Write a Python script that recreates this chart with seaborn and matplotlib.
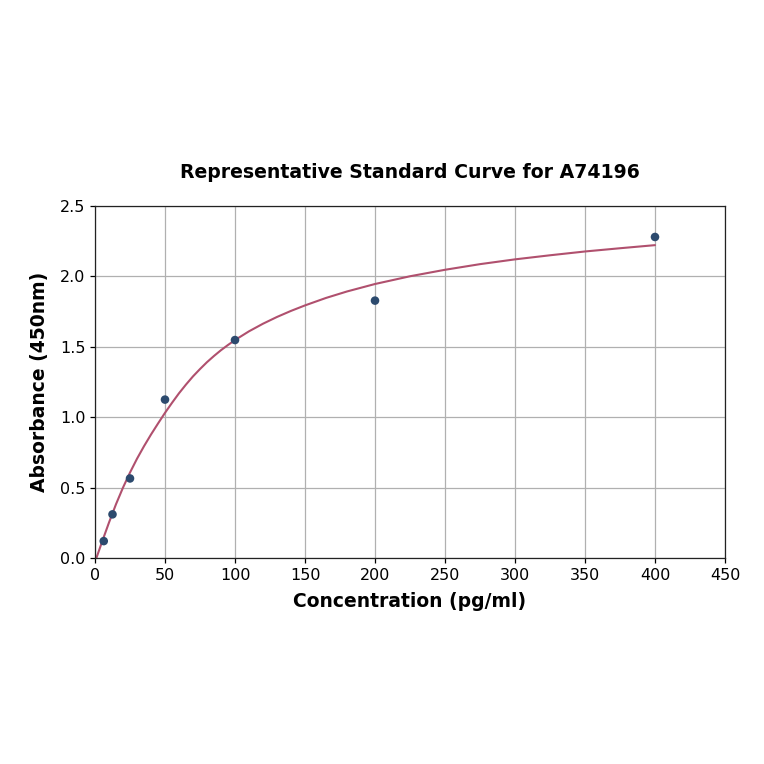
import matplotlib
matplotlib.use("Agg")
import matplotlib.pyplot as plt
import seaborn as sns
import pandas as pd

# Standard points
conc = [6.25, 12.5, 25, 50, 100, 200, 400]
absorb = [0.12, 0.31, 0.565, 1.125, 1.548, 1.828, 2.28]

# Fitted curve
curve_x = [1, 5, 10, 15, 20, 25, 30, 35, 40, 45, 50, 55, 60, 65, 70, 75, 80, 85, 90,
           95, 100, 110, 120, 130, 140, 150, 165, 180, 200, 225, 250, 275, 300, 325,
           350, 375, 400]
curve_y = [0.0, 0.114, 0.252, 0.382, 0.50, 0.607, 0.705, 0.794, 0.877, 0.955, 1.031,
           1.102, 1.170, 1.232, 1.290, 1.342, 1.391, 1.435, 1.476, 1.513, 1.548, 1.610,
           1.664, 1.712, 1.755, 1.794, 1.847, 1.893, 1.946, 2.001, 2.047, 2.087, 2.121,
           2.150, 2.177, 2.200, 2.222]

x_ticks = [0, 50, 100, 150, 200, 250, 300, 350, 400, 450]
y_ticks = [0.0, 0.5, 1.0, 1.5, 2.0, 2.5]

title = "Representative Standard Curve for A74196"
xlabel = "Concentration (pg/ml)"
ylabel = "Absorbance (450nm)"

sns.set_theme(style="ticks", rc={"text.color": "black", "axes.labelcolor": "black",
                                 "xtick.color": "black", "ytick.color": "black"})
plt.rcParams['font.family'] = ['DejaVu Sans']

pts = pd.DataFrame({"x": conc, "y": absorb})
crv = pd.DataFrame({"x": curve_x, "y": curve_y})

fig = plt.figure(figsize=(7.64, 7.64), dpi=100)
ax = fig.add_axes([95/764, 206/764, 630/764, 352/764])

ax.grid(True, color="#b0b0b0", linewidth=0.9)
ax.set_axisbelow(True)

sns.lineplot(data=crv, x="x", y="y", ax=ax, color="#b0506e", linewidth=1.5, zorder=2)
sns.scatterplot(data=pts, x="x", y="y", ax=ax, color="#2c4a6e", s=38,
                edgecolor="none", zorder=3)

ax.set_xlim(0, 450)
ax.set_ylim(0, 2.5)
ax.set_xticks(x_ticks)
ax.set_yticks(y_ticks)
ax.set_xticklabels([str(t) for t in x_ticks])
ax.set_yticklabels([f"{t:.1f}" for t in y_ticks])
ax.tick_params(axis="both", labelsize=11.5, length=3.5, width=0.9, colors="black",
               direction="out")

for s in ax.spines.values():
    s.set_visible(True)
    s.set_color("#222222")
    s.set_linewidth(0.9)

ax.set_title(title, fontsize=13.6, fontweight="bold", pad=20, color="black")
ax.set_xlabel(xlabel, fontsize=13.5, fontweight="bold", labelpad=7, color="black")
ax.set_ylabel(ylabel, fontsize=13.5, fontweight="bold", labelpad=8, color="black")

fig.savefig("out.png", dpi=100, facecolor="white")
